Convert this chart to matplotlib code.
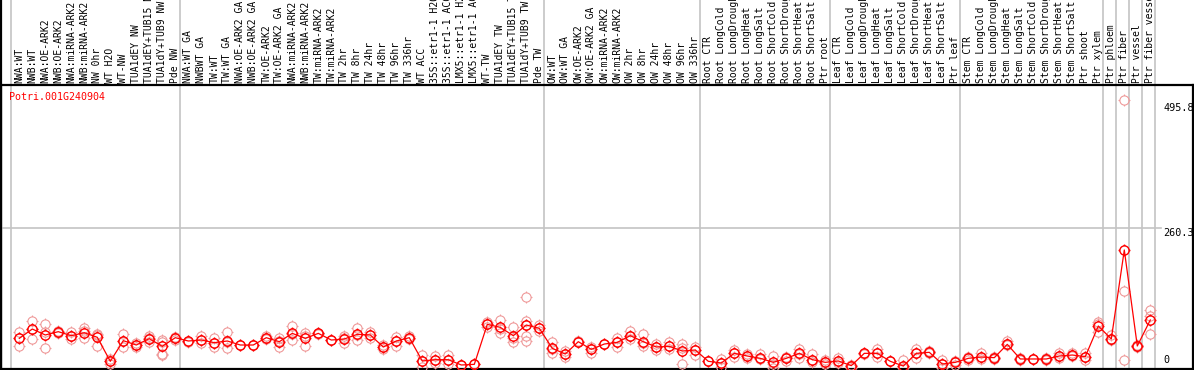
import matplotlib
matplotlib.use("Agg")
import matplotlib.pyplot as plt
from matplotlib.path import Path
import matplotlib.transforms as mtransforms

labels = [
    "NWA:WT", "NWB:WT", "NWA:OE-ARK2", "NWB:OE-ARK2", "NWA:miRNA-ARK2", "NWB:miRNA-ARK2",
    "NW 0hr", "WT H2O", "WT-NW", "TUA1dEY NW", "TUA1dEY+TUB15 NW", "TUA1dY+TUB9 NW", "Pde NW",
    "NWA:WT GA", "NWBWT GA", "TW:WT", "TW:WT GA", "NWA:OE-ARK2 GA", "NWB:OE-ARK2 GA",
    "TW:OE-ARK2", "TW:OE-ARK2 GA", "NWA:miRNA-ARK2", "NWB:miRNA-ARK2", "TW:miRNA-ARK2",
    "TW:miRNA-ARK2", "TW 2hr", "TW 8hr", "TW 24hr", "TW 48hr", "TW 96hr", "TW 336hr", "WT ACC",
    "35S::etr1-1 H2O", "35S::etr1-1 ACC", "LMX5::etr1-1 H2O", "LMX5::etr1-1 ACC", "WT-TW",
    "TUA1dEY TW", "TUA1dEY+TUB15 TW", "TUA1dY+TUB9 TW", "Pde TW",
    "OW:WT", "OW:WT GA", "OW:OE-ARK2", "OW:OE-ARK2 GA", "OW:miRNA-ARK2", "OW:miRNA-ARK2",
    "OW 2hr", "OW 8hr", "OW 24hr", "OW 48hr", "OW 96hr", "OW 336hr",
    "Root CTR", "Root LongCold", "Root LongDrought", "Root LongHeat", "Root LongSalt",
    "Root ShortCold", "Root ShortDrought", "Root ShortHeat", "Root ShortSalt", "Ptr root",
    "Leaf CTR", "Leaf LongCold", "Leaf LongDrought", "Leaf LongHeat", "Leaf LongSalt",
    "Leaf ShortCold", "Leaf ShortDrought", "Leaf ShortHeat", "Leaf ShortSalt", "Ptr leaf",
    "Stem CTR", "Stem LongCold", "Stem LongDrought", "Stem LongHeat", "Stem LongSalt",
    "Stem ShortCold", "Stem ShortDrought", "Stem ShortHeat", "Stem ShortSalt", "Ptr shoot",
    "Ptr xylem", "Ptr phloem", "Ptr fiber", "Ptr vessel", "Ptr fiber vessel",
]

means = [
    56.6, 73.8, 62.8, 68.9, 61.5, 67.0, 58.5, 14.2, 52.3, 44.3, 56.0, 41.8, 57.8,
    51.7, 53.5, 48.6, 51.7, 44.3, 44.3, 57.8, 50.4, 65.8, 56.6, 65.8, 53.5, 55.4,
    64.0, 62.8, 40.6, 51.7, 57.8, 14.8, 17.2, 17.2, 7.4, 8.6, 82.4, 76.9, 61.5,
    81.2, 75.0,
    38.1, 27.7, 50.4, 36.3, 46.1, 49.2, 61.5, 50.4, 40.6, 41.8, 33.2, 35.1,
    14.2, 11.1, 28.9, 24.0, 19.7, 12.3, 19.7, 28.9, 17.2, 12.3,
    14.8, 6.2, 28.9, 28.9, 14.2, 5.5, 28.9, 30.8, 9.2, 12.3,
    19.7, 22.2, 20.9, 45.5, 18.5, 18.5, 18.5, 24.0, 25.8, 22.8, 79.4,
    55.4, 219.7, 42.5, 90.5,
]

replicates = [
    [68.9, 56.6, 43.0], [88.6, 73.8, 55.4], [82.4, 68.0, 38.1], [71.0, 68.9, 66.5],
    [68.9, 60.0, 55.4], [75.0, 70.0, 56.6], [65.0, 62.0, 43.0], [19.0, 14.2, 8.6],
    [64.6, 52.0, 40.6], [48.6, 44.0, 40.0], [60.0, 58.0, 49.8], [53.5, 50.0, 28.0, 25.8],
    [59.7, 57.8, 53.5],
    [51.7, 50.5], [61.5, 53.0, 47.3], [56.6, 48.0, 40.6], [67.7, 49.0, 38.1],
    [45.0, 43.5], [45.0, 44.0], [61.5, 57.8, 55.4], [57.8, 52.0, 40.6],
    [78.7, 65.0, 53.5], [65.8, 60.0, 43.0], [67.0, 65.8, 64.5], [54.0, 53.0],
    [61.5, 57.0, 47.3], [76.3, 62.0, 53.5], [68.9, 62.0, 56.6], [44.0, 40.6, 37.0],
    [59.7, 52.0, 42.5], [60.0, 57.8, 55.4], [25.8, 14.0, 4.3], [24.6, 16.0, 11.0],
    [25.8, 16.0, 9.8], [8.0, 7.0], [9.0, 8.5], [87.4, 82.4, 78.0], [90.5, 73.0, 67.0],
    [78.1, 57.0, 49.2], [132.3, 88.6, 81.0, 61.5, 52.3], [80.4, 75.0, 70.0],
    [49.2, 36.0, 28.9], [33.0, 27.7, 22.5], [51.0, 50.0], [40.6, 36.0, 28.9],
    [47.0, 45.5], [57.8, 49.0, 40.6], [70.1, 61.5, 55.4], [64.0, 48.0, 41.8],
    [45.5, 40.6, 34.6], [49.8, 41.8, 36.3], [45.5, 38.0, 9.8], [41.5, 35.0, 26.5],
    [15.0, 14.0], [18.5, 11.0, 4.3], [35.0, 28.9, 22.8], [27.0, 24.0, 21.0],
    [28.3, 19.7, 18.5], [24.0, 10.0, 2.5], [22.8, 19.7, 14.0], [36.3, 28.0, 21.0],
    [27.7, 16.0, 12.3], [16.6, 12.3, 8.6],
    [19.7, 14.8, 11.1], [7.0, 6.0, 2.5], [29.5, 28.5], [37.0, 28.9, 22.8], [15.0, 14.0],
    [16.6, 5.0, 2.5], [36.3, 30.0, 19.7], [33.0, 30.8, 29.0], [16.6, 9.0, 2.5],
    [14.8, 12.3, 8.0],
    [22.8, 19.7, 16.6], [28.9, 22.0, 18.5], [22.8, 20.9, 19.0], [51.7, 45.5, 44.3],
    [20.9, 18.5, 16.6], [19.0, 18.0], [20.9, 18.5, 16.6], [29.5, 24.0, 21.0],
    [28.9, 25.8, 24.6], [30.2, 22.8, 16.6], [87.4, 83.0, 67.7],
    [62.8, 55.4, 53.5], [495.8, 144.0, 16.6], [45.0, 42.5, 40.0], [109.0, 98.4, 64.0],
]

group_bounds = [0, 13, 41, 53, 63, 73, 84, 85, 86, 87, 88]
gene = "Potri.001G240904"
ytick_values = [495.8, 260.3, 0]

W, H = 1194, 370
fig = plt.figure(figsize=(W / 100, H / 100), dpi=100)
ax_l, ax_r, ax_t, ax_b = 1, 1193, 85, 369
ax = fig.add_axes([ax_l / W, (H - ax_b) / H, (ax_r - ax_l) / W, (ax_b - ax_t) / H])

step = 13.0
x0px = 19.3
xs = list(range(len(labels)))
ax.set_xlim((ax_l - x0px) / step, (ax_r - x0px) / step)
ppu = 0.5417
ax.set_ylim(0, (ax_b - ax_t) / ppu)
ax.set_xticks([])
ax.set_yticks([])
for s in ax.spines.values():
    s.set_color("black")
    s.set_linewidth(1.6)

mono = "DejaVu Sans Mono"
ext = 1 + 85 / (ax_b - ax_t)
for b in group_bounds:
    ax.axvline(b - 0.64, ymin=0, ymax=ext, color="#c4c4c4", lw=1.2, clip_on=False, zorder=1)
ax.axvline(ax.get_xlim()[0], ymin=0, ymax=ext, color="black", lw=1.6, clip_on=False, zorder=1)
ax.axhline(ytick_values[1], xmin=0, xmax=(1161 - ax_l) / (ax_r - ax_l), color="#c4c4c4",
           lw=1.2, zorder=1)

circ = Path.unit_circle()
r1, r2 = 1.0, 1.3
tv = [(0, r1), (0, r2), (0, -r1), (0, -r2), (r1, 0), (r2, 0), (-r1, 0), (-r2, 0)]
tc = [Path.MOVETO, Path.LINETO] * 4
mk = Path.make_compound_path(circ, Path(tv, tc))

rx, ry = [], []
for i, reps in enumerate(replicates):
    for v in reps:
        rx.append(xs[i])
        ry.append(v)
ax.plot(rx, ry, linestyle="none", marker=mk, markersize=8.6, markerfacecolor="none",
        markeredgecolor="#ef9a9a", markeredgewidth=0.8, zorder=3)
ax.plot(xs, means, color="#ff0000", lw=0.9, zorder=4)
ax.plot(xs, means, linestyle="none", marker=mk, markersize=8.6, markerfacecolor="none",
        markeredgecolor="#ff0000", markeredgewidth=1.0, zorder=5)

tr = mtransforms.blended_transform_factory(ax.transData, ax.transAxes)
for i, lab in enumerate(labels):
    ax.text(xs[i], 1 + 2 / (ax_b - ax_t), lab, rotation=90, ha="center", va="bottom",
            fontsize=7.0, family=mono, transform=tr, clip_on=False)

ax.text((9 - ax_l) / (ax_r - ax_l), (ax_b - 97) / (ax_b - ax_t), gene, color="#ff0000",
        fontsize=7.2, family=mono, ha="left", va="center", transform=ax.transAxes)

tr2 = mtransforms.blended_transform_factory(ax.transAxes, ax.transData)
xl = (1163 - ax_l) / (ax_r - ax_l)
ax.annotate(f"{ytick_values[0]}", (xl, ytick_values[0]), xycoords=tr2, xytext=(0, -2),
            textcoords="offset points", ha="left", va="top", fontsize=7.3, family=mono)
ax.annotate(f"{ytick_values[1]}", (xl, ytick_values[1]), xycoords=tr2, xytext=(0, 0),
            textcoords="offset points", ha="left", va="top", fontsize=7.3, family=mono)
ax.annotate("0", (xl, ytick_values[2]), xycoords=tr2, xytext=(0, 3),
            textcoords="offset points", ha="left", va="bottom", fontsize=7.3, family=mono)

fig.savefig("out.png", dpi=100)
